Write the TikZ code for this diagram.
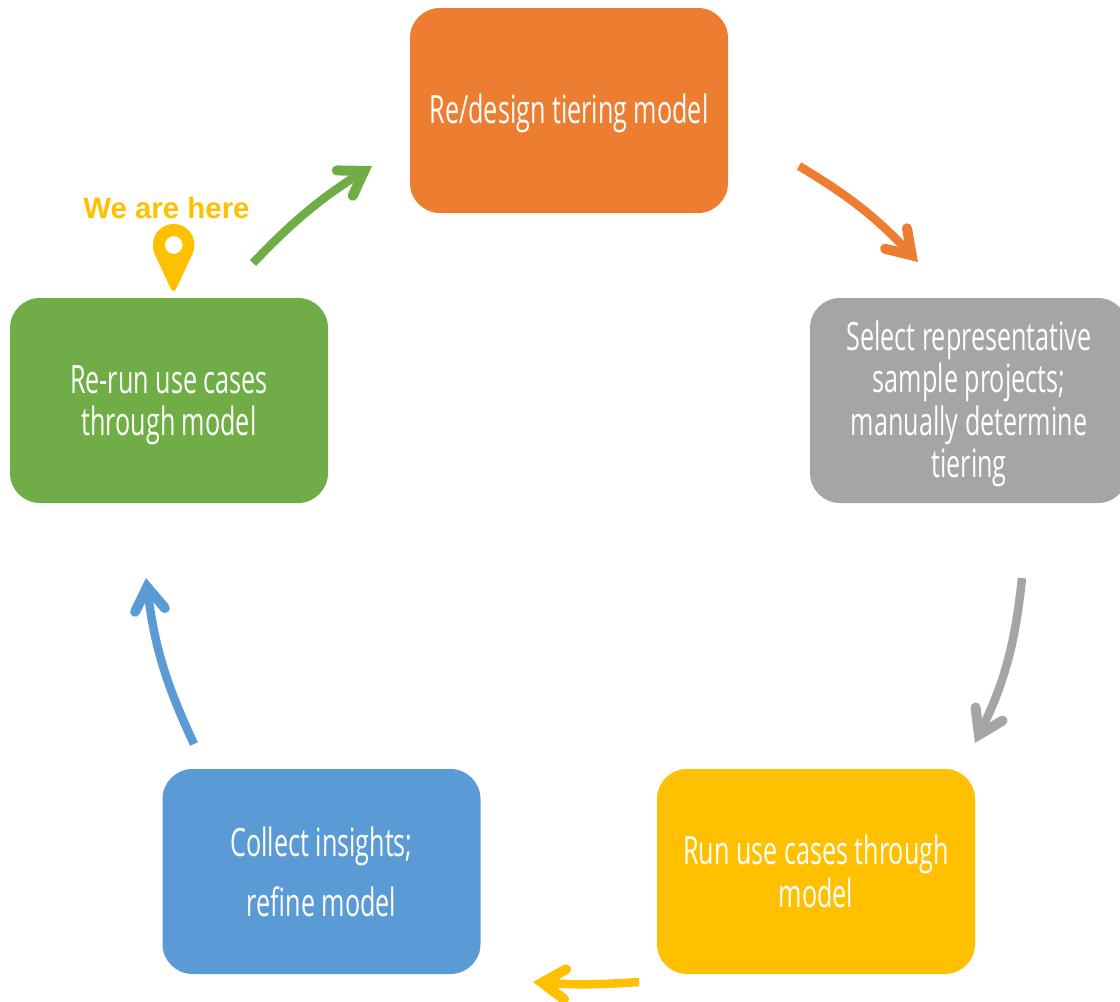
\documentclass[tikz,border=0pt]{standalone}
\usepackage{fontspec}
\setmainfont[FakeStretch=0.645]{Open Sans}
\newfontfamily\herefont{Liberation Sans}
\usetikzlibrary{arrows.meta}
\definecolor{cOrange}{HTML}{ED7D31}
\definecolor{cGrey}{HTML}{A5A5A5}
\definecolor{cYellow}{HTML}{FFC000}
\definecolor{cBlue}{HTML}{5B9BD5}
\definecolor{cGreen}{HTML}{70AD47}
\newcommand{\firstline}[1]{\rule{0pt}{#1pt}}

\begin{document}
\begin{tikzpicture}[x=1pt, y=-1pt,
every node/.style = {align=center},
box/.style = {shape=rectangle, rounded corners=30pt, text=white,
	minimum width=318pt, minimum height=205pt,
	font=\fontsize{39}{42.5}\selectfont},
loop/.style = {line width=8.5pt,
	-{Straight Barb[length=23pt, width=30pt, line width=10pt, line cap=round]}}]

\useasboundingbox (0,0) rectangle (1120,1002);

\node[box, fill=cOrange] (design) at (569,110.5) {\firstline{34.6}Re/design tiering model};
\node[box, fill=cGrey] (select) at (969,400.5) {\firstline{36.6}Select representative\\sample projects;\\manually determine\\tiering};
\node[box, fill=cYellow] (run) at (816,871.5) {Run use cases through\\model};
\node[box, fill=cBlue, font=\fontsize{39}{60}\selectfont] (collect) at (321.5,871.5) {Collect insights;\\refine model};
\node[box, fill=cGreen] (rerun) at (169,400.5) {\firstline{36.9}Re-run use cases\\through model};

% ends of the arrows
\coordinate (orangeA) at (799,166);
\coordinate (orangeB) at (918,262);
\coordinate (greyA) at (1022,578);
\coordinate (greyB) at (975,743);
\coordinate (yellowA) at (639,982);
\coordinate (yellowB) at (533,982);
\coordinate (blueA) at (194,744);
\coordinate (blueB) at (146,578);
\coordinate (greenA) at (253,263);
\coordinate (greenB) at (372,166);

\draw[loop, cOrange] (orangeA) to[bend left=8] (orangeB);
\draw[loop, cGrey] (greyA) to[bend left=10] (greyB);
\draw[loop, cYellow] (yellowA) to[bend left=4] (yellowB);
\draw[loop, cBlue] (blueA) to[bend left=9] (blueB);
\draw[loop, cGreen] (greenA) to[bend left=7] (greenB);

% pin
\node[text=cYellow, font=\herefont\bfseries\fontsize{29.4}{32}\selectfont] (here) at (166.5,208) {We are here};
\fill[cYellow, even odd rule] (173.7,291) .. controls (172,291) and (171,289) .. (170,287)
	-- (156,257) .. controls (154,253) and (153,249) .. (153,245)
	.. controls (153,233) and (162,224) .. (173.7,224)
	.. controls (185,224) and (194.4,233) .. (194.4,245)
	.. controls (194.4,249) and (193,253) .. (191,257)
	-- (177,287) .. controls (176,289) and (175,291) .. (173.7,291) -- cycle
	(182.7,245) arc[start angle=0, end angle=360, radius=9];
\end{tikzpicture}
\end{document}
